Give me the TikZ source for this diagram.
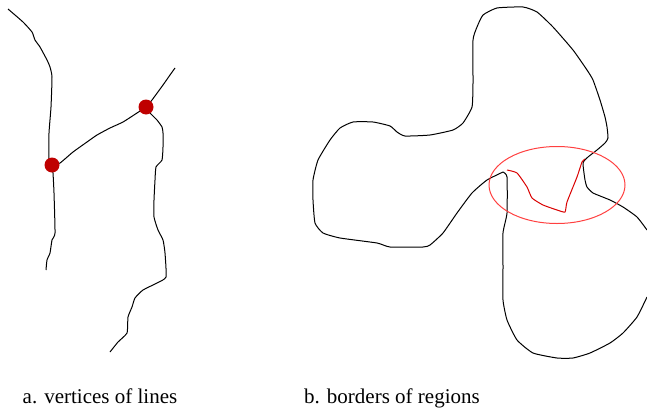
\documentclass[tikz,border=0pt]{standalone}
\usepackage{fontspec}
\setmainfont{Liberation Serif}
\newfontfamily\capfont{Liberation Serif}
\usetikzlibrary{shapes.geometric}
\begin{document}
\begin{tikzpicture}[x=1pt,y=-1pt,
  curve/.style={line width=1pt,black,line join=round},
  redcurve/.style={line width=1pt,red!85!black,line join=round},
  vertex/.style={circle,fill=red!75!black,inner sep=0pt,minimum size=15pt},
  caption/.style={font=\capfont\fontsize{21}{23}\selectfont,anchor=base}]
\useasboundingbox (0,0) rectangle (647,415);
% left: lines
\draw[curve] plot[smooth,tension=0.3] coordinates {(8,9) (23,22) (32,32) (35,40) (40,47) (47,60) (50,67) (52,77) (51,107) (49,133) (49,160) (52,165) (53,173) (54,193) (55,233) (52,240) (50,253) (47,260) (46,270)};
\draw[curve] plot[smooth,tension=0.3] coordinates {(52,165) (60,163) (73,152) (87,142) (97,135) (110,128) (123,122) (137,113) (146,107) (152,100) (163,85) (170,75) (175,68)};
\draw[curve] plot[smooth,tension=0.3] coordinates {(146,107) (150,113) (157,120) (162,127) (163,133) (163,147) (162,160) (156,167) (155,180) (154,200) (154,217) (158,230) (163,240) (165,253) (166,277) (157,283) (143,290) (135,298) (132,307) (128,317) (127,333) (118,342) (110,352)};
\node[vertex] (v1) at (52,165) {};
\node[vertex] (v2) at (146,107) {};
% right: regions
\draw[curve] plot[smooth,tension=0.3] coordinates {(503,172) (487,180) (472,193) (457,213) (443,233) (430,245) (423,247) (390,247) (377,243) (340,238) (323,233) (315,223) (313,200) (313,180) (318,160) (330,140) (340,128) (353,122) (373,122) (390,126) (397,132) (405,136) (430,135) (453,130) (463,123) (472,107) (473,83) (473,40) (477,27) (483,15) (497,8) (523,7) (537,12) (553,27) (573,50) (587,70) (593,80) (600,100) (605,117) (607,127) (608,138) (605,143) (597,150) (588,157) (583,163) (585,180) (587,187) (593,193) (610,200) (623,207) (637,217) (647,230)};
\draw[curve] plot[smooth,tension=0.3] coordinates {(647,297) (637,317) (623,333) (610,343) (590,353) (573,358) (557,358) (533,353) (517,340) (507,320) (503,300) (503,267) (503,233) (507,213) (507,177) (503,172)};
\draw[redcurve] plot[smooth,tension=0.3] coordinates {(507,170) (517,173) (527,187) (532,198) (543,205) (557,210) (565,212) (567,202) (577,177) (582,162) (585,159)};
\node[draw=red!75,line width=1pt,ellipse,minimum width=136pt,minimum height=77pt,inner sep=0pt] (ring) at (557,185) {};
% captions
\node[caption] (ca) at (100,403) {a. vertices of lines};
\node[caption] (cb) at (392,403) {b. borders of regions};
\end{tikzpicture}
\end{document}
